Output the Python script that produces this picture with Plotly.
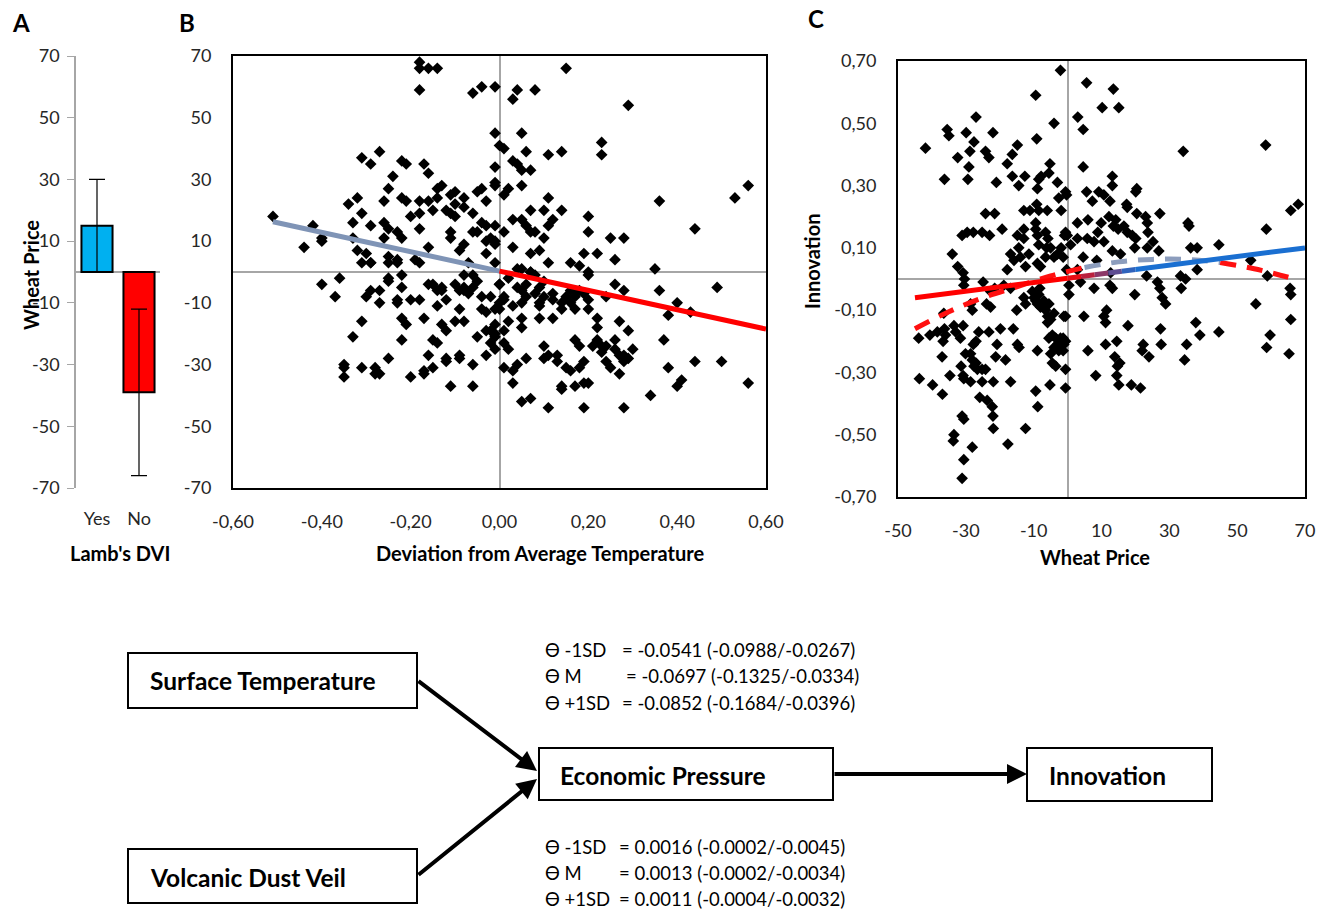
import numpy as np
import plotly.graph_objects as go

W, H = 1333, 909
FONT = "Lato"

# ---------------- Panel A data ----------------
a_categories = ["Yes", "No"]
a_wheat_price = [15, -39]
a_error = [15, 27]
a_colors = ["#00B0F0", "#FF0000"]

# ---------------- Panel B data ----------------
b_temp_dev = [
    -0.51, -0.44, -0.42, -0.40, -0.40, -0.34, -0.32, -0.33, -0.31, -0.33, -0.31, -0.29, -0.27, -0.29, -0.32, -0.30,
    -0.29, -0.26, -0.25, -0.24, -0.26, -0.25, -0.26, -0.23, -0.22, -0.25, -0.23, -0.22, -0.21, -0.22, -0.21, -0.20,
    -0.18, -0.18, -0.18, -0.16, -0.17, -0.16, -0.18, -0.18, -0.18, -0.16, -0.14, -0.16, -0.18, -0.15, -0.14, -0.13,
    -0.14, -0.12, -0.11, -0.11, -0.10, -0.10, -0.10, -0.08, -0.08, -0.06, -0.05, -0.04, -0.03, -0.04, -0.06, -0.01,
    -0.01, -0.01, -0.01, -0.11, -0.11, -0.08, -0.09, -0.07, -0.06, -0.05, -0.04, -0.03, -0.03, -0.02, -0.01, -0.01,
    -0.03, -0.01, -0.01, 0.00, -0.19,
    -0.40, -0.36, -0.37, -0.31, -0.33, -0.35, -0.35, -0.35, -0.31, -0.28, -0.27, -0.28, -0.25, -0.30, -0.29, -0.27,
    -0.27, -0.25, -0.25, -0.23, -0.22, -0.22, -0.20, -0.23, -0.22, -0.21, -0.22, -0.20, -0.18, -0.17, -0.17, -0.17,
    -0.16, -0.15, -0.13, -0.14, -0.13, -0.14, -0.12, -0.13, -0.15, -0.14, -0.16, -0.15, -0.12, -0.12, -0.12, -0.11,
    -0.10, -0.09, -0.08, -0.08, -0.09, -0.10, -0.08, -0.09, -0.09, -0.06, -0.06, -0.08, -0.06, -0.05, -0.06, -0.07,
    -0.04, -0.04, -0.03, -0.05, -0.03, -0.02, -0.03, -0.01, -0.02, -0.02, -0.01, 0.00, 0.00, -0.01, -0.31, -0.29,
    -0.25, -0.23,
    0.15, 0.04, 0.08, 0.03, 0.29, 0.05, 0.01, 0.06, 0.11, 0.14, 0.23, 0.23, 0.03, 0.04, 0.05, 0.07,
    0.02, 0.01, 0.05, 0.11, 0.14, 0.07, 0.10, 0.12, 0.03, 0.05, 0.06, 0.07, 0.08, 0.10, 0.11, 0.01,
    0.20, 0.20, 0.25, 0.28, 0.36, 0.44, 0.53, 0.56, 0.03, 0.07, 0.09, 0.11, 0.16, 0.19, 0.22, 0.26,
    0.18, 0.20, 0.35, 0.05, 0.07, -0.01,
    0.26, 0.28, 0.24, 0.36, 0.40, 0.43, 0.49, 0.38, 0.27, 0.29, 0.37, 0.38, 0.44, 0.50, 0.41, 0.40,
    0.56, 0.34, 0.28, 0.19, 0.11, 0.05, 0.07, 0.14, 0.14, 0.17, 0.19, 0.20, 0.03, 0.03, 0.01, 0.04,
    0.06, 0.10, 0.11, 0.13, 0.13, 0.15, 0.16, 0.18, 0.19, 0.18, 0.17, 0.10, 0.21, 0.22, 0.23, 0.23,
    0.24, 0.24, 0.25, 0.26, 0.26, 0.27, 0.28, 0.28, 0.29, 0.30, 0.27, 0.22, 0.22, 0.20, 0.17, 0.14,
    0.12, 0.09, 0.05, 0.05, 0.01, 0.01, 0.02, -0.01, -0.01, 0.02, 0.00, 0.01, 0.03, 0.05, 0.06, 0.08,
    0.09, 0.09, 0.10, 0.12, 0.12, 0.14, 0.15, 0.16, 0.17, 0.16, 0.18, 0.19, 0.20, 0.01, 0.04, 0.05,
    0.06, 0.00, 0.02, 0.04, 0.07, 0.08, 0.09, 0.10, 0.20,
]
b_wheat_price = [
    18, 8, 15, 11, 10, 22, 24, 16, 19, 11, 37, 35, 39, 15, 7, 6,
    3, 23, 27, 31, 16, 14, 11, 13, 11, 5, 4, 36, 35, 24, 23, 18,
    19, 14, 23, 23, 35, 32, 59, 68, 66, 66, 66, 8, 3, 20, 27, 28,
    24, 20, 19, 25, 26, 22, 18, 24, 21, 19, 26, 27, 23, 60, 58, 60,
    34, 29, 28, 13, 11, 9, 7, 3, 13, 13, 16, 15, 10, 11, 15, 9,
    6, 3, 45, 41, 4,
    -4, -2, -8, -16, -21, -31, -30, -34, -31, -31, -33, -33, -28, -8, -6, -10,
    -6, -2, -3, -10, -1, -5, -9, -9, -15, -17, -22, -34, -9, -15, -33, -32,
    -4, -4, -5, -6, -6, -11, -9, -17, -22, -23, -27, -31, -19, -28, -29, -37,
    -4, -6, -6, -5, -12, -16, -16, -27, -28, -30, -37, -1, -1, -3, -5, -7,
    -8, -12, -13, -21, -19, -19, -27, -25, -23, -8, -12, -4, -10, -21, 3, 3,
    3, 3,
    66, 59, 59, 56, 54, 45, 40, 39, 38, 39, 42, 38, 36, 35, 33, 33,
    27, 25, 28, 24, 20, 20, 20, 17, 17, 17, 15, 13, 13, 11, 15, 13,
    18, 13, 11, 11, 23, 14, 24, 28, 8, 6, 7, 3, 3, 6, 6, 4,
    2, 0, 1, 1, 0, 10,
    -4, -6, -8, -6, -10, -13, -5, -14, -16, -19, -22, -31, -29, -29, -35, -37,
    -36, -40, -44, -44, -44, -42, -41, -37, -38, -37, -36, -36, -36, -32, -31, -30,
    -28, -28, -27, -27, -29, -31, -32, -31, -29, -24, -22, -24, -24, -22, -26, -24,
    -24, -29, -31, -22, -25, -27, -27, -29, -28, -25, -33, -18, -15, -12, -12, -12,
    -15, -15, -15, -18, -19, -23, -25, -20, -17, -16, -12, -9, -11, -10, -8, -7,
    -10, -11, -8, -9, -7, -10, -8, -6, -8, -10, -6, -7, -9, -8, -5, -6,
    -4, -4, -2, 1, 0, -1, -5, -3, -1,
]
# Regression line in B (left part grey-blue, right part red)
b_fit_x = [-0.51, 0.0, 0.60]
b_fit_y = [16.3, 0.3, -18.5]

# ---------------- Panel C data ----------------
c_wheat_price = [
    -41.9, -35.5, -35.0, -36.3, -32.4, -29.9, -27.6, -27.0, -28.8, -29.1, -29.4, -24.2, -23.2, -22.0, -21.0, -24.2,
    -21.5, -19.3, -17.8, -16.3, -14.8, -16.3, -14.4, -12.6, -12.9, -11.1, -9.4, -9.1, -4.0, -2.1, -8.5, -7.8,
    -5.5, -5.2, -8.9, -8.5, -6.0, -9.1, -3.0, -2.6, -1.9, -0.6, -31.1, -29.6, -27.8, -25.2, -23.0, -34.0,
    -32.4, -30.8, -24.9, -17.8, -16.8, -15.8, -14.4, -14.8, -12.9, -12.9, -13.9, -12.4, -11.4, -9.4, -9.4, -8.9,
    -8.5, -8.9, -8.0, -6.5, -5.8, -6.2, -6.5, -5.0, -4.0, -3.0, -1.9, -0.9, -0.1, -1.3, -0.3, 3.0,
    2.9, 2.9,
    5.6, 13.5, 10.2, 15.1, 4.6, 34.1, 58.4, 4.6, 13.2, 20.4, 20.1, 5.6, -0.3, 7.3, 9.2, 10.7,
    12.5, 13.2, 17.4, 17.6, 20.4, 23.0, 27.2, 23.5, 6.0, 9.9, 12.2, 14.2, 13.5, 14.9, 16.6, 17.6,
    19.1, 20.1, 23.7, 8.9, 5.8, 7.8, 10.7, -0.6, 0.9, 13.2, 15.6, 19.8, 23.5, 25.2, 26.9, 35.5,
    35.8, 36.3, 38.2, 44.6, 54.0, 58.6, 65.8, 68.0, 4.6, 8.6, 2.9, 12.7, 23.3, 33.3, 38.2, 58.9,
    0.4, 0.4, 3.8, 7.8, 12.5, 13.2, 19.8, 26.5, 27.2, 27.9, 28.9, 33.5, 34.8, 55.5, 65.6, 65.8,
    4.8, 11.5, 10.7, 11.2, 17.8, 27.4, 37.8, 39.0, 44.6, 59.7, 58.7, 65.8, 65.3, -0.6, 6.0, 11.2,
    14.5, 13.9, 15.4, 14.7, 22.3, 22.0, 24.0, 27.6, 35.1, 34.5, 8.3, 14.5, 15.1, 18.8, 21.5, -0.6,
    -0.6, -1.3, -0.6, -1.3,
    -43.9, -40.6, -38.4, -36.3, -36.0, -33.5, -33.0, -36.7, -30.8, -37.0, -43.7, -39.8, -36.9, -34.7, -31.6, -31.4,
    -30.8, -30.6, -28.6, -31.1, -30.6, -33.5, -33.7, -28.1, -30.6, -31.1, -30.1, -28.6, -28.1, -27.6, -27.0, -26.6,
    -25.2, -24.2, -27.8, -27.0, -26.2, -23.2, -25.9, -23.7, -22.2, -22.0, -21.9, -25.2, -21.9, -20.8, -21.2, -19.8,
    -18.3, -16.8, -16.0, -14.8, -14.3, -17.6, -12.4, -9.4, -8.8, -8.9, -5.2, -28.1, -28.6, -30.6, -30.4, -23.9,
    -22.7, -21.5, -18.8, -16.8, -15.0, -12.9, -12.4, -10.4, -9.9, -9.4, -8.9, -8.5, -8.0, -7.0, -6.5, -5.9,
    -5.5, -5.0, -4.0, -5.9, -4.5, -5.5, -3.5, -3.0, -4.0, -2.1, -1.1, -2.6, -5.0, -4.5, -3.5, -1.1,
    -36.5, -22.7, -8.2,
]
c_innovation = [
    0.42, 0.48, 0.46, 0.32, 0.39, 0.47, 0.44, 0.52, 0.41, 0.36, 0.32, 0.41, 0.39, 0.47, 0.31, 0.21,
    0.21, 0.16, 0.37, 0.40, 0.43, 0.33, 0.30, 0.33, 0.22, 0.22, 0.59, 0.45, 0.50, 0.67, 0.32, 0.33,
    0.34, 0.37, 0.29, 0.22, 0.22, 0.24, 0.31, 0.26, 0.22, 0.28, 0.14, 0.15, 0.15, 0.15, 0.14, 0.08,
    0.04, 0.02, -0.01, 0.03, 0.08, 0.06, 0.10, 0.14, 0.16, 0.13, 0.07, 0.04, 0.08, 0.18, 0.16, 0.14,
    0.11, 0.05, 0.04, 0.15, 0.13, 0.10, 0.07, 0.10, 0.07, 0.08, 0.10, 0.14, 0.14, 0.07, 0.03, 0.52,
    0.18, 0.13,
    0.63, 0.61, 0.55, 0.55, 0.48, 0.41, 0.43, 0.36, 0.33, 0.29, 0.28, 0.28, 0.27, 0.25, 0.28, 0.27,
    0.25, 0.30, 0.24, 0.23, 0.21, 0.20, 0.21, 0.18, 0.19, 0.18, 0.20, 0.19, 0.17, 0.16, 0.17, 0.15,
    0.14, 0.13, 0.15, 0.15, 0.13, 0.12, 0.12, 0.15, 0.11, 0.09, 0.08, 0.10, 0.10, 0.12, 0.09, 0.18,
    0.17, 0.10, 0.10, 0.11, 0.06, 0.16, 0.22, 0.24, 0.07, 0.06, 0.03, 0.02, 0.01, 0.01, 0.03, 0.01,
    -0.02, -0.05, -0.01, -0.03, -0.02, -0.03, -0.05, -0.01, -0.03, -0.06, -0.08, -0.03, 0.00, -0.08, -0.03, -0.05,
    -0.12, -0.10, -0.12, -0.14, -0.15, -0.16, -0.14, -0.18, -0.17, -0.18, -0.22, -0.13, -0.24, -0.12, -0.23, -0.21,
    -0.20, -0.25, -0.27, -0.28, -0.21, -0.23, -0.25, -0.21, -0.21, -0.26, -0.31, -0.31, -0.34, -0.34, -0.35, -0.29,
    -0.35, -0.19, -0.20, -0.23,
    -0.19, -0.18, -0.17, -0.16, -0.18, -0.15, -0.17, -0.20, -0.15, -0.25, -0.32, -0.34, -0.37, -0.31, -0.19, -0.28,
    -0.31, -0.32, -0.33, -0.44, -0.45, -0.50, -0.52, -0.54, -0.58, -0.64, -0.24, -0.24, -0.26, -0.28, -0.27, -0.29,
    -0.29, -0.29, -0.21, -0.20, -0.17, -0.17, -0.38, -0.39, -0.41, -0.44, -0.48, -0.33, -0.33, -0.21, -0.25, -0.16,
    -0.26, -0.33, -0.16, -0.21, -0.22, -0.53, -0.48, -0.36, -0.41, -0.23, -0.34, -0.10, -0.08, -0.02, 0.00, -0.08,
    -0.09, -0.03, -0.02, -0.03, -0.10, -0.06, -0.08, -0.04, -0.06, -0.07, -0.08, -0.05, -0.09, -0.07, -0.10, -0.12,
    -0.08, -0.13, -0.11, -0.14, -0.18, -0.19, -0.19, -0.21, -0.22, -0.19, -0.21, -0.23, -0.24, -0.27, -0.28, -0.12,
    -0.11, -0.04, -0.03,
]
# Solid regression line in C (red -> blue)
c_fit_x = [-45, 70]
c_fit_y = [-0.06, 0.10]
# Dashed curve in C
c_curve_x = [-45, -35, -25, -15, -5, 5, 15, 25, 35, 45, 55, 68]
c_curve_y = [-0.16, -0.105, -0.06, -0.025, 0.01, 0.037, 0.055, 0.063, 0.063, 0.053, 0.033, -0.003]

# Tick labels
price_ticks = [-70, -50, -30, -10, 10, 30, 50, 70]
price_ticktext = ["-70", "-50", "-30", "-10", "10", "30", "50", "70"]
b_xticks = [-0.6, -0.4, -0.2, 0.0, 0.2, 0.4, 0.6]
b_xticktext = ["-0,60", "-0,40", "-0,20", "0,00", "0,20", "0,40", "0,60"]
c_xticks = [-50, -30, -10, 10, 30, 50, 70]
c_xticktext = ["-50", "-30", "-10", "10", "30", "50", "70"]
c_yticks = [-0.7, -0.5, -0.3, -0.1, 0.1, 0.3, 0.5, 0.7]
c_yticktext = ["-0,70", "-0,50", "-0,30", "-0,10", "0,10", "0,30", "0,50", "0,70"]

# Diagram text
theta_labels = ["\u03f4 -1SD", "\u03f4 M", "\u03f4 +1SD"]
temp_effects = ["= -0.0541 (-0.0988/-0.0267)", "= -0.0697 (-0.1325/-0.0334)", "= -0.0852 (-0.1684/-0.0396)"]
dust_effects = ["= 0.0016 (-0.0002/-0.0045)", "= 0.0013 (-0.0002/-0.0034)", "= 0.0011 (-0.0004/-0.0032)"]


def px(x):
    return x / W


def py(y):
    return 1 - y / H


fig = go.Figure()

# Panel A bars
fig.add_trace(go.Bar(
    x=a_categories, y=a_wheat_price, width=0.74,
    marker=dict(color=a_colors, line=dict(color="black", width=2)),
    error_y=dict(type="data", array=a_error, color="black", thickness=1.2, width=8),
    xaxis="x", yaxis="y",
))

# Panel B scatter
fig.add_trace(go.Scatter(
    x=b_temp_dev, y=b_wheat_price, mode="markers",
    marker=dict(symbol="diamond", size=9, color="black"),
    xaxis="x2", yaxis="y2",
))
fig.add_trace(go.Scatter(x=b_fit_x[:2], y=b_fit_y[:2], mode="lines",
                         line=dict(color="#7F94B6", width=5), xaxis="x2", yaxis="y2"))
fig.add_trace(go.Scatter(x=b_fit_x[1:], y=b_fit_y[1:], mode="lines",
                         line=dict(color="#FF0000", width=5), xaxis="x2", yaxis="y2"))

# Panel C scatter
fig.add_trace(go.Scatter(
    x=c_wheat_price, y=c_innovation, mode="markers",
    marker=dict(symbol="diamond", size=9, color="black"),
    xaxis="x3", yaxis="y3",
))

# Dashed curve: red / grey-blue / red
dash = "16px,11px"
fig.add_trace(go.Scatter(x=c_curve_x[:6], y=c_curve_y[:6], mode="lines",
                         line=dict(color="#FF1010", width=5, dash=dash, shape="spline"),
                         xaxis="x3", yaxis="y3"))
fig.add_trace(go.Scatter(x=c_curve_x[5:10], y=c_curve_y[5:10], mode="lines",
                         line=dict(color="#8C9DBD", width=5, dash=dash, shape="spline"),
                         xaxis="x3", yaxis="y3"))
fig.add_trace(go.Scatter(x=c_curve_x[9:], y=c_curve_y[9:], mode="lines",
                         line=dict(color="#FF1010", width=5, dash=dash, shape="spline"),
                         xaxis="x3", yaxis="y3"))

# Solid line with red -> blue gradient (drawn in short pieces along the fitted line)
red = np.array([255, 0, 0])
blue = np.array([26, 111, 209])
breaks = [c_fit_x[0], 0, 4, 8, 12, 16, 20, c_fit_x[1]]
for i in range(len(breaks) - 1):
    x0, x1 = breaks[i], breaks[i + 1]
    t = min(max(((x0 + x1) / 2 - 0) / 20, 0), 1)
    col = (1 - t) * red + t * blue
    ys = np.interp([x0, x1], c_fit_x, c_fit_y)
    fig.add_trace(go.Scatter(x=[x0, x1], y=list(ys), mode="lines",
                             line=dict(color="rgb(%d,%d,%d)" % tuple(col.astype(int)), width=5),
                             xaxis="x3", yaxis="y3"))

tickfont = dict(family=FONT, size=18, color="#262626")
box_axis = dict(showline=True, mirror=True, linecolor="black", linewidth=2, showgrid=False,
                zeroline=True, zerolinecolor="#A6A6A6", zerolinewidth=1.5, ticks="",
                tickfont=tickfont, ticklabelstandoff=16, automargin=False)

fig.update_layout(
    width=W, height=H, margin=dict(l=0, r=0, t=0, b=0, pad=0, autoexpand=False),
    paper_bgcolor="white", plot_bgcolor="white", showlegend=False,
    font=dict(family=FONT, color="black"),
    xaxis=dict(domain=[px(76), px(160)], anchor="y", type="category", range=[-0.5, 1.5],
               showline=False, showgrid=False, zeroline=False, ticks="", tickfont=tickfont,
               ticklabelstandoff=18, automargin=False),
    yaxis=dict(domain=[py(488), py(56)], anchor="x", range=[-70, 70], tickvals=price_ticks,
               ticktext=price_ticktext, automargin=False,
               showline=True, linecolor="#A6A6A6", linewidth=1.5, ticks="outside", ticklen=7,
               tickcolor="#A6A6A6", showgrid=False, zeroline=True, zerolinecolor="#A6A6A6",
               zerolinewidth=1.5, tickfont=tickfont, ticklabelstandoff=4),
    xaxis2=dict(domain=[px(233), px(766)], anchor="y2", range=[-0.6, 0.6],
                tickvals=b_xticks, ticktext=b_xticktext, **box_axis),
    yaxis2=dict(domain=[py(488), py(56)], anchor="x2", range=[-70, 70], tickvals=price_ticks,
                ticktext=price_ticktext, **box_axis),
    xaxis3=dict(domain=[px(898), px(1305)], anchor="y3", range=[-50, 70], tickvals=c_xticks,
                ticktext=c_xticktext, **box_axis),
    yaxis3=dict(domain=[py(497), py(61)], anchor="x3", range=[-0.7, 0.7], tickvals=c_yticks,
                ticktext=c_yticktext, **box_axis),
)

ann = []


def text(x, y, s, size=17, bold=False, xanchor="center", angle=0):
    ann.append(dict(x=px(x), y=py(y), xref="paper", yref="paper", showarrow=False,
                    text="<b>%s</b>" % s if bold else s, xanchor=xanchor, yanchor="middle",
                    textangle=angle, font=dict(family=FONT, size=size, color="black")))


# Panel letters
text(21, 22, "A", size=24, bold=True)
text(187, 22, "B", size=24, bold=True)
text(816, 19, "C", size=24, bold=True)
# Axis titles
text(31, 275, "Wheat Price", size=20, bold=True, angle=-90)
text(120, 553, "Lamb's DVI", size=20, bold=True)
text(540, 553, "Deviation from Average Temperature", size=20, bold=True)
text(1095, 557, "Wheat Price", size=20, bold=True)
text(812, 262, "Innovation", size=20, bold=True, angle=-90)

# Diagram boxes
shapes = []
for (x0, y0, x1, y1) in [(128, 653, 417, 708), (128, 849, 417, 903), (539, 748, 833, 800), (1027, 748, 1212, 801)]:
    shapes.append(dict(type="rect", xref="paper", yref="paper", x0=px(x0), x1=px(x1), y0=py(y1), y1=py(y0),
                       line=dict(color="black", width=2), fillcolor="white"))

text(148, 680, "Surface Temperature", size=24.5, bold=True, xanchor="left")
text(148, 877, "Volcanic Dust Veil", size=24.5, bold=True, xanchor="left")
text(558, 775, "Economic Pressure", size=24.5, bold=True, xanchor="left")
text(1047, 775, "Innovation", size=24.5, bold=True, xanchor="left")

for i, yy in enumerate([650, 676, 703]):
    text(543, yy, theta_labels[i], size=18.5, xanchor="left")
    text(620 if i != 1 else 624, yy, temp_effects[i], size=18.5, xanchor="left")
for i, yy in enumerate([847, 873, 899]):
    text(543, yy, theta_labels[i], size=18.5, xanchor="left")
    text(617, yy, dust_effects[i], size=18.5, xanchor="left")

# Arrows
for (tx, ty, hx, hy) in [(417, 680, 537, 771), (417, 876, 537, 779), (833, 774, 1027, 774)]:
    ann.append(dict(x=px(hx), y=py(hy), xref="paper", yref="paper", ax=tx - hx, ay=ty - hy,
                    axref="pixel", ayref="pixel", showarrow=True, text="", arrowhead=2,
                    arrowsize=1, arrowwidth=4, arrowcolor="black"))

fig.update_layout(annotations=ann, shapes=shapes)
fig.write_html("out.html")
